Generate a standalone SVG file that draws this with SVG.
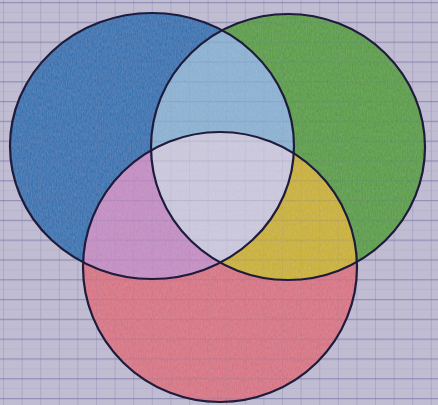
<svg xmlns="http://www.w3.org/2000/svg" width="438" height="405" viewBox="0 0 438 405">
  <defs>
    <pattern id="grid" x="3" y="2" width="18.6" height="19.8" patternUnits="userSpaceOnUse">
      <line x1="0" y1="0.5" x2="18.6" y2="0.5" stroke="#6a679a" stroke-width="1.4" stroke-opacity="0.4"/>
      <line x1="0.5" y1="0" x2="0.5" y2="19.8" stroke="#7c78a6" stroke-width="1" stroke-opacity="0.22"/>
      <line x1="0" y1="10.4" x2="18.6" y2="10.4" stroke="#8a86ad" stroke-width="0.8" stroke-opacity="0.12"/>
    </pattern>
    <filter id="crayon" x="0" y="0" width="100%" height="100%">
      <feTurbulence type="fractalNoise" baseFrequency="0.8 0.3" numOctaves="2" seed="4" result="n"/>
      <feColorMatrix in="n" type="matrix" values="0 0 0 0 1  0 0 0 0 1  0 0 0 0 1  0 0 0 0.12 0" result="w"/>
      <feComposite in="w" in2="SourceGraphic" operator="in" result="wt"/>
      <feMerge><feMergeNode in="SourceGraphic"/><feMergeNode in="wt"/></feMerge>
    </filter>
    <clipPath id="cB"><ellipse cx="152" cy="146" rx="142" ry="133"/></clipPath>
    <clipPath id="cG"><ellipse cx="288" cy="147" rx="137" ry="133"/></clipPath>
    <style>
      .outline { fill: none; stroke: #1e1b3c; stroke-width: 2.2; }
    </style>
  </defs>

  <rect width="438" height="405" fill="#c0bcd2"/>
  <rect width="438" height="405" fill="url(#grid)"/>

  <g id="fills" filter="url(#crayon)">
    <ellipse cx="152" cy="146" rx="142" ry="133" fill="#1f6cae"/>
    <ellipse cx="288" cy="147" rx="137" ry="133" fill="#4f9a36"/>
    <ellipse cx="220" cy="267" rx="137" ry="135" fill="#d66d7f"/>
    <ellipse cx="288" cy="147" rx="137" ry="133" fill="#86aed0" clip-path="url(#cB)"/>
    <ellipse cx="220" cy="267" rx="137" ry="135" fill="#c188c0" clip-path="url(#cB)"/>
    <ellipse cx="220" cy="267" rx="137" ry="135" fill="#c8ae12" clip-path="url(#cG)"/>
    <g clip-path="url(#cG)">
      <ellipse cx="220" cy="267" rx="137" ry="135" fill="#c8c5da" clip-path="url(#cB)"/>
    </g>
  </g>

  <rect width="438" height="405" fill="url(#grid)" opacity="0.45"/>

  <g id="circles">
    <ellipse id="blue" class="outline" cx="152" cy="146" rx="142" ry="133"/>
    <ellipse id="green" class="outline" cx="288" cy="147" rx="137" ry="133"/>
    <ellipse id="red" class="outline" cx="220" cy="267" rx="137" ry="135"/>
  </g>
</svg>
